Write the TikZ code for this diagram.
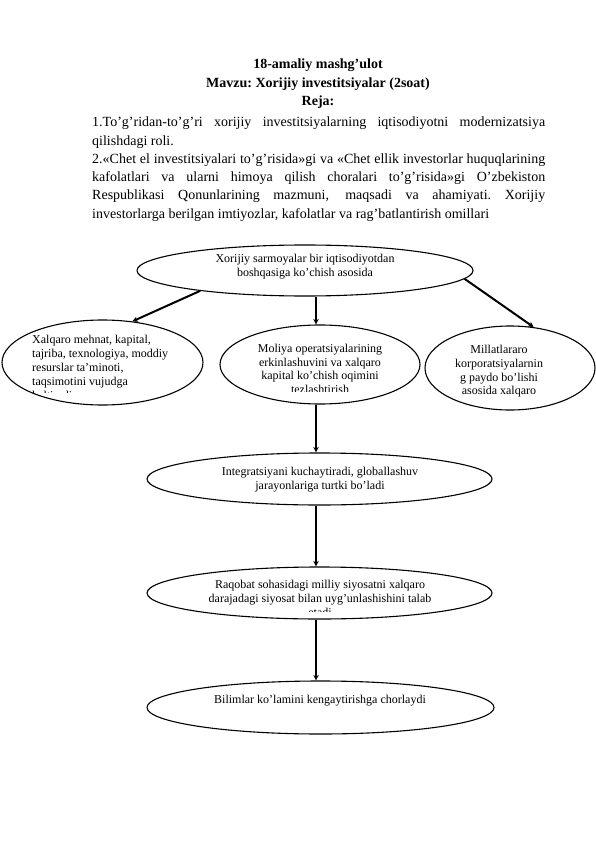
\documentclass[tikz,border=0pt]{standalone}
\usepackage{fontspec}
\setmainfont{Liberation Serif}
\usetikzlibrary{shapes.geometric,arrows.meta,calc}
\newcommand{\jl}[1]{\leavevmode\hbox to 453pt{\spaceskip=0.25em plus 1fil\xspaceskip=0.25em plus 1fil\relax #1}}
\begin{document}
\begin{tikzpicture}[x=1pt,y=-1pt,
  oval/.style={draw,ellipse,line width=1.1pt,inner sep=0pt},
  arr/.style={line width=2pt,-{Stealth[length=5.5pt,width=5.5pt]}},
  lbl/.style={inner sep=0pt,anchor=north,align=center,font=\fontsize{12}{13.8}\selectfont,
    execute at begin node={\spaceskip=0.25em plus 0.1em\xspaceskip=0.25em plus 0.1em\relax\strut}},
  lbll/.style={lbl,anchor=north west,align=left},
]
\useasboundingbox[fill=white] (0,0) rectangle (596,842);

% heading
\node[inner sep=0pt,anchor=north,align=center,font=\bfseries\fontsize{14}{18.5}\selectfont,
  execute at begin node={\spaceskip=0.25em\xspaceskip=0.25em\relax\strut}] (title) at (318,59)
  {18-amaliy mashg’ulot\\Mavzu: Xorijiy investitsiyalar (2soat)\\Reja:};

\node[inner sep=0pt,anchor=north west,align=left,text width=453pt,font=\fontsize{14}{18.3}\selectfont,
  execute at begin node={\spaceskip=0.25em\xspaceskip=0.25em\relax\strut}] (body) at (92,113.7)
  {\jl{1.To’g’ridan-to’g’ri xorijiy investitsiyalarning iqtisodiyotni modernizatsiya}\\
   qilishdagi roli.\\
   \jl{2.«Chet el investitsiyalari to’g’risida»gi va «Chet ellik investorlar huquqlarining}\\
   \jl{kafolatlari va ularni himoya qilish choralari to’g’risida»gi O’zbekiston}\\
   \jl{Respublikasi Qonunlarining mazmuni, maqsadi va ahamiyati. Xorijiy}\\
   investorlarga berilgan imtiyozlar, kafolatlar va rag’batlantirish omillari};

% ellipses
\node[oval,minimum width=336pt,minimum height=51pt] (top) at (305,270.5) {};
\node[oval,minimum width=201pt,minimum height=85pt] (left) at (102.5,362.5) {};
\node[oval,minimum width=200pt,minimum height=79pt] (mid) at (320,364.5) {};
\node[oval,minimum width=170pt,minimum height=84pt] (right) at (510,368) {};
\node[oval,minimum width=345pt,minimum height=52pt] (integ) at (319.5,479) {};
\node[oval,minimum width=345pt,minimum height=52pt] (raq) at (319.5,593) {};
\node[oval,minimum width=347pt,minimum height=53pt] (bil) at (320.5,707.5) {};

% texts
\node[lbl] (ttop) at (305,254) {Xorijiy sarmoyalar bir iqtisodiyotdan\\boshqasiga ko’chish asosida};
\begin{scope}
  \clip (0,300) rectangle (215,392.3);
  \node[lbll] (tleft) at (32,335.3) {Xalqaro mehnat, kapital,\\tajriba, texnologiya, moddiy\\resurslar ta’minoti,\\taqsimotini vujudga\\keltiradi};
\end{scope}
\begin{scope}
  \clip (215,300) rectangle (425,391);
  \node[lbl] (tmid) at (320,343.8) {Moliya operatsiyalarining\\erkinlashuvini va xalqaro\\kapital ko’chish oqimini\\tezlashtirish};
\end{scope}
\node[lbl] (tright) at (499,345) {Millatlararo\\korporatsiyalarnin\\g paydo bo’lishi\\asosida xalqaro};
\node[lbl] (tinteg) at (320,467.3) {Integratsiyani kuchaytiradi, globallashuv\\jarayonlariga turtki bo’ladi};
\begin{scope}
  \clip (140,560) rectangle (500,611);
  \node[lbl] (traq) at (320,580.3) {Raqobat sohasidagi milliy siyosatni xalqaro\\darajadagi siyosat bilan uyg’unlashishini talab\\etadi};
\end{scope}
\node[lbl] (tbil) at (320,693.3) {Bilimlar ko’lamini kengaytirishga chorlaydi};

% connectors
\coordinate (col) at (316,0);
\draw[arr] (top.191) -- (left.54);
\draw[arr] (top.-3.5) -- (right.60.3);
\draw[arr] (top.south -| col) -- (mid.north -| col);
\draw[arr] (mid.south -| col) -- (integ.north -| col);
\draw[arr] (integ.south -| col) -- (raq.north -| col);
\draw[arr] (raq.south -| col) -- (bil.north -| col);
\end{tikzpicture}
\end{document}
